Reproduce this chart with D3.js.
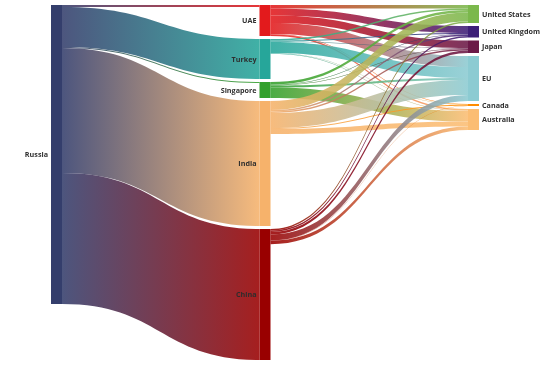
<!DOCTYPE html>
<html><head><meta charset="utf-8">
<script src="https://cdn.jsdelivr.net/npm/d3@7"></script>
<style>
body{margin:0;background:#fff}
text{font-family:"Open Sans",sans-serif;font-weight:700;font-size:7.2px;fill:#2e2e2e}
.labels{opacity:0.99;will-change:transform}
</style>
</head><body>
<svg id="c" width="554" height="368"></svg>
<script>
// ---------- data ----------
const origins = ["Russia"];
const hubs = ["UAE", "Turkey", "Singapore", "India", "China"];
const destinations = ["United States", "United Kingdom", "Japan", "EU", "Canada", "Australia"];

const russiaToHubs = [2, 40, 1, 125, 131];
// hub -> destination flows (columns follow `destinations`)
const fromUAE       = [3.5, 7,   7.5, 11, 0.5, 1.5];
const fromTurkey    = [1.5, 1,   0.5, 11, 0.3, 0.5];
const fromSingapore = [2.5, 0.5, 0.5, 2,  0,   10.5];
const fromIndia     = [9,   1.5, 1.5, 15, 1,   5];
const fromChina     = [1.5, 1.5, 2.5, 6,  0.2, 3.5];

const originColors = ["#343e6c"];
const hubColors = ["#e31a1c", "#26a69a", "#33a02c", "#f6b26b", "#990000"];
const destColors = ["#7bb84c", "#3d1f78", "#6b1947", "#8ccbd2", "#ff8c00", "#fbbd73"];

// ---------- build graph ----------
const columns = [origins, hubs, destinations];
const colColors = [originColors, hubColors, destColors];
const nodes = [];
columns.forEach((names, c) => names.forEach((n, i) => nodes.push({name: n, col: c, idx: i, color: colColors[c][i], ins: [], outs: []})));
const byName = (c, n) => nodes.find(d => d.col === c && d.name === n);
const links = [];
russiaToHubs.forEach((v, i) => links.push({source: byName(0, "Russia"), target: byName(1, hubs[i]), value: v}));
[fromUAE, fromTurkey, fromSingapore, fromIndia, fromChina].forEach((row, i) =>
  row.forEach((v, j) => { if (v > 0) links.push({source: byName(1, hubs[i]), target: byName(2, destinations[j]), value: v}); }));
links.forEach(l => { l.source.outs.push(l); l.target.ins.push(l); });
nodes.forEach(n => n.value = Math.max(d3.sum(n.ins, l => l.value), d3.sum(n.outs, l => l.value)));

// ---------- layout ----------
const nodeW = 11, pad = 3, yTop = 5, yBottom = 360;
const x = d3.scaleLinear().domain([0, 2]).range([51, 468]);
const maxCol = d3.max(columns, (names, c) => d3.sum(nodes.filter(n => n.col === c), n => n.value));
const ky = d3.scaleLinear().domain([0, maxCol]).range([0, (yBottom - yTop) - (hubs.length - 1) * pad]);
columns.forEach((names, c) => {
  let y = yTop;
  nodes.filter(n => n.col === c).forEach(n => {
    n.x0 = x(c); n.x1 = n.x0 + nodeW; n.y0 = y; n.y1 = y + ky(n.value); y = n.y1 + pad;
  });
});
nodes.forEach(n => {
  let y = n.y0;
  n.outs.sort((a, b) => a.target.y0 - b.target.y0).forEach(l => { l.sy0 = y; y += ky(l.value); l.sy1 = y; });
  y = n.y0;
  n.ins.sort((a, b) => a.source.y0 - b.source.y0).forEach(l => { l.ty0 = y; y += ky(l.value); l.ty1 = y; });
});

// ---------- draw ----------
const svg = d3.select("#c");
const defs = svg.append("defs");
links.forEach((l, i) => {
  const g = defs.append("linearGradient").attr("id", "g" + i).attr("gradientUnits", "userSpaceOnUse")
    .attr("x1", l.source.x1).attr("x2", l.target.x0).attr("y1", 0).attr("y2", 0);
  g.append("stop").attr("offset", "0%").attr("stop-color", l.source.color);
  g.append("stop").attr("offset", "100%").attr("stop-color", l.target.color);
});
function linkPath(l) {
  const x0 = l.source.x1, x1 = l.target.x0, xi = d3.interpolateNumber(x0, x1);
  const xa = xi(0.5), xb = xi(0.5);
  return `M${x0},${l.sy0}C${xa},${l.sy0} ${xb},${l.ty0} ${x1},${l.ty0}L${x1},${l.ty1}C${xb},${l.ty1} ${xa},${l.sy1} ${x0},${l.sy1}Z`;
}
svg.append("g").selectAll("path").data(links).join("path")
  .attr("d", linkPath).attr("fill", (l, i) => `url(#g${i})`).attr("fill-opacity", 0.88);

svg.append("g").selectAll("rect").data(nodes).join("rect")
  .attr("x", d => d.x0).attr("y", d => d.y0).attr("width", nodeW).attr("height", d => Math.max(0.8, d.y1 - d.y0))
  .attr("fill", d => d.color);

svg.append("g").attr("class", "labels").selectAll("text").data(nodes).join("text")
  .attr("x", d => d.col === 2 ? d.x1 + 3 : d.x0 - 3)
  .attr("y", d => (d.y0 + d.y1) / 2).attr("dy", "0.35em")
  .attr("text-anchor", d => d.col === 2 ? "start" : "end")
  .text(d => d.name);
</script>
</body></html>
